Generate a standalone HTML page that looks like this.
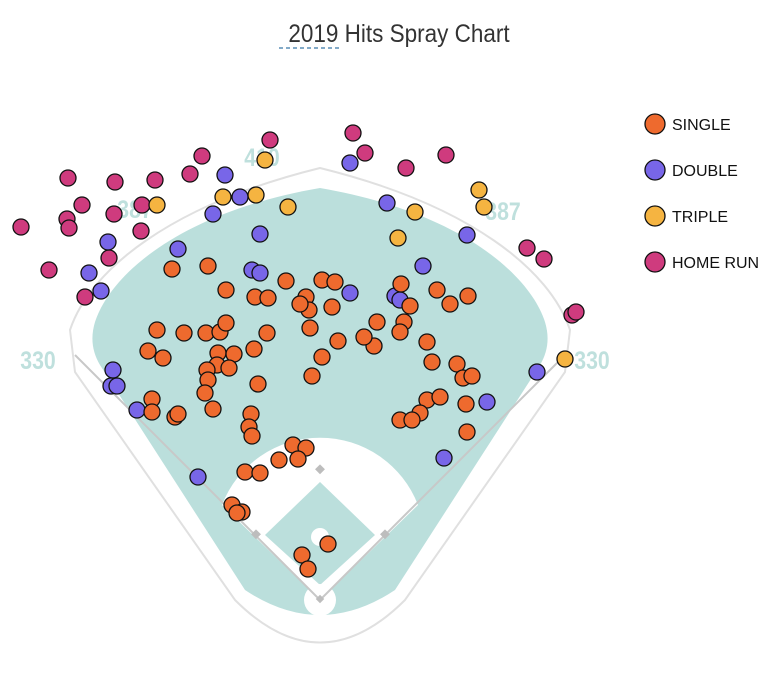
<!DOCTYPE html>
<html><head><meta charset="utf-8"><style>
body{margin:0;background:#fff;width:782px;height:684px;overflow:hidden;font-family:"Liberation Sans",sans-serif}
</style></head><body>
<svg width="782" height="684" viewBox="0 0 782 684" xmlns="http://www.w3.org/2000/svg">
<text x="399" y="42" text-anchor="middle" font-size="25" fill="#333" font-family="Liberation Sans" transform="translate(399 0) scale(0.9 1) translate(-399 0)">2019 Hits Spray Chart</text>
<line x1="279" y1="48" x2="341" y2="48" stroke="#5a8db5" stroke-width="1.5" stroke-dasharray="4 3"/>
<path d="M75,372 L70,330 C90,270 170,205 320,168 C470,205 550,270 570,330 L565,372 L405,600 Q320,685 235,600 Z" fill="none" stroke="#e0e0e0" stroke-width="2"/>
<path d="M95,322 C110,275 180,212 320,188 C460,212 530,275 545,322 Q552,345 540,365 L395,590 Q320,640 245,590 L100,365 Q88,345 95,322 Z" fill="#bbdfdc"/>
<path d="M320,600 L222,505 A105,105 0 0 1 418,505 Z" fill="#fff"/>
<path d="M320,585 L375,535 L320,482 L265,535 Z" fill="#bbdfdc"/>
<circle cx="320" cy="537" r="9" fill="#fff"/>
<circle cx="320" cy="600" r="16" fill="#fff"/>
<line x1="320" y1="600" x2="75" y2="355" stroke="#c8c8c8" stroke-width="2"/>
<line x1="320" y1="600" x2="565" y2="355" stroke="#c8c8c8" stroke-width="2"/>
<g fill="#bdbdbd"><rect x="316" y="466" width="7" height="7" transform="rotate(45 320 470)"/><rect x="381" y="531" width="7" height="7" transform="rotate(45 385 535)"/><rect x="252" y="531" width="7" height="7" transform="rotate(45 256 535)"/><rect x="317" y="596" width="6" height="6" transform="rotate(45 320 599)"/></g>
<g fill="#bfe0dd" font-size="25" font-weight="bold" font-family="Liberation Sans">
<text x="38" y="369" text-anchor="middle" transform="translate(38 0) scale(0.85 1) translate(-38 0)">330</text>
<text x="135" y="218" text-anchor="middle" transform="translate(135 0) scale(0.85 1) translate(-135 0)">387</text>
<text x="262" y="166" text-anchor="middle" transform="translate(262 0) scale(0.85 1) translate(-262 0)">410</text>
<text x="503" y="220" text-anchor="middle" transform="translate(503 0) scale(0.85 1) translate(-503 0)">387</text>
<text x="592" y="369" text-anchor="middle" transform="translate(592 0) scale(0.85 1) translate(-592 0)">330</text>
</g>
<g stroke="#111" stroke-width="1.3" fill="#cf3b7e">
<circle cx="21" cy="227" r="8"/><circle cx="68" cy="178" r="8"/><circle cx="67" cy="219" r="8"/><circle cx="69" cy="228" r="8"/><circle cx="82" cy="205" r="8"/><circle cx="49" cy="270" r="8"/><circle cx="85" cy="297" r="8"/><circle cx="115" cy="182" r="8"/><circle cx="114" cy="214" r="8"/><circle cx="109" cy="258" r="8"/><circle cx="141" cy="231" r="8"/><circle cx="142" cy="205" r="8"/><circle cx="155" cy="180" r="8"/><circle cx="190" cy="174" r="8"/><circle cx="202" cy="156" r="8"/><circle cx="270" cy="140" r="8"/><circle cx="353" cy="133" r="8"/><circle cx="365" cy="153" r="8"/><circle cx="406" cy="168" r="8"/><circle cx="446" cy="155" r="8"/><circle cx="527" cy="248" r="8"/><circle cx="544" cy="259" r="8"/><circle cx="572" cy="315" r="8"/><circle cx="576" cy="312" r="8"/>
</g>
<g stroke="#111" stroke-width="1.3" fill="#7866e8">
<circle cx="225" cy="175" r="8"/><circle cx="213" cy="214" r="8"/><circle cx="240" cy="197" r="8"/><circle cx="260" cy="234" r="8"/><circle cx="178" cy="249" r="8"/><circle cx="108" cy="242" r="8"/><circle cx="89" cy="273" r="8"/><circle cx="101" cy="291" r="8"/><circle cx="252" cy="270" r="8"/><circle cx="260" cy="273" r="8"/><circle cx="350" cy="163" r="8"/><circle cx="387" cy="203" r="8"/><circle cx="467" cy="235" r="8"/><circle cx="423" cy="266" r="8"/><circle cx="350" cy="293" r="8"/><circle cx="395" cy="296" r="8"/><circle cx="400" cy="300" r="8"/><circle cx="113" cy="370" r="8"/><circle cx="111" cy="386" r="8"/><circle cx="117" cy="386" r="8"/><circle cx="137" cy="410" r="8"/><circle cx="198" cy="477" r="8"/><circle cx="444" cy="458" r="8"/><circle cx="487" cy="402" r="8"/><circle cx="537" cy="372" r="8"/>
</g>
<g stroke="#111" stroke-width="1.3" fill="#f5b441">
<circle cx="265" cy="160" r="8"/><circle cx="157" cy="205" r="8"/><circle cx="223" cy="197" r="8"/><circle cx="256" cy="195" r="8"/><circle cx="288" cy="207" r="8"/><circle cx="479" cy="190" r="8"/><circle cx="484" cy="207" r="8"/><circle cx="415" cy="212" r="8"/><circle cx="398" cy="238" r="8"/><circle cx="565" cy="359" r="8"/>
</g>
<g stroke="#111" stroke-width="1.3" fill="#ee6a2e">
<circle cx="172" cy="269" r="8"/><circle cx="208" cy="266" r="8"/><circle cx="226" cy="290" r="8"/><circle cx="255" cy="297" r="8"/><circle cx="268" cy="298" r="8"/><circle cx="286" cy="281" r="8"/><circle cx="306" cy="297" r="8"/><circle cx="322" cy="280" r="8"/><circle cx="335" cy="282" r="8"/><circle cx="309" cy="310" r="8"/><circle cx="300" cy="304" r="8"/><circle cx="332" cy="307" r="8"/><circle cx="401" cy="284" r="8"/><circle cx="437" cy="290" r="8"/><circle cx="450" cy="304" r="8"/><circle cx="468" cy="296" r="8"/><circle cx="157" cy="330" r="8"/><circle cx="184" cy="333" r="8"/><circle cx="206" cy="333" r="8"/><circle cx="220" cy="332" r="8"/><circle cx="226" cy="323" r="8"/><circle cx="267" cy="333" r="8"/><circle cx="254" cy="349" r="8"/><circle cx="310" cy="328" r="8"/><circle cx="338" cy="341" r="8"/><circle cx="374" cy="346" r="8"/><circle cx="377" cy="322" r="8"/><circle cx="364" cy="337" r="8"/><circle cx="404" cy="322" r="8"/><circle cx="400" cy="332" r="8"/><circle cx="410" cy="306" r="8"/><circle cx="427" cy="342" r="8"/><circle cx="148" cy="351" r="8"/><circle cx="163" cy="358" r="8"/><circle cx="218" cy="353" r="8"/><circle cx="217" cy="365" r="8"/><circle cx="234" cy="354" r="8"/><circle cx="229" cy="368" r="8"/><circle cx="207" cy="370" r="8"/><circle cx="208" cy="380" r="8"/><circle cx="205" cy="393" r="8"/><circle cx="213" cy="409" r="8"/><circle cx="258" cy="384" r="8"/><circle cx="322" cy="357" r="8"/><circle cx="312" cy="376" r="8"/><circle cx="432" cy="362" r="8"/><circle cx="457" cy="364" r="8"/><circle cx="463" cy="378" r="8"/><circle cx="472" cy="376" r="8"/><circle cx="427" cy="400" r="8"/><circle cx="440" cy="397" r="8"/><circle cx="420" cy="413" r="8"/><circle cx="400" cy="420" r="8"/><circle cx="412" cy="420" r="8"/><circle cx="466" cy="404" r="8"/><circle cx="467" cy="432" r="8"/><circle cx="152" cy="399" r="8"/><circle cx="152" cy="412" r="8"/><circle cx="175" cy="417" r="8"/><circle cx="178" cy="414" r="8"/><circle cx="251" cy="414" r="8"/><circle cx="249" cy="427" r="8"/><circle cx="252" cy="436" r="8"/><circle cx="293" cy="445" r="8"/><circle cx="306" cy="448" r="8"/><circle cx="298" cy="459" r="8"/><circle cx="279" cy="460" r="8"/><circle cx="245" cy="472" r="8"/><circle cx="260" cy="473" r="8"/><circle cx="232" cy="505" r="8"/><circle cx="242" cy="512" r="8"/><circle cx="237" cy="513" r="8"/><circle cx="328" cy="544" r="8"/><circle cx="302" cy="555" r="8"/><circle cx="308" cy="569" r="8"/>
</g>
<g stroke="#111" stroke-width="1.3">
<circle cx="655" cy="124" r="10" fill="#ee6a2e"/><circle cx="655" cy="170" r="10" fill="#7866e8"/><circle cx="655" cy="216" r="10" fill="#f5b441"/><circle cx="655" cy="262" r="10" fill="#cf3b7e"/>
</g>
<g font-size="16" fill="#111" font-family="Liberation Sans">
<text x="672" y="130">SINGLE</text><text x="672" y="176">DOUBLE</text><text x="672" y="222">TRIPLE</text><text x="672" y="268">HOME RUN</text>
</g>
</svg>
</body></html>
